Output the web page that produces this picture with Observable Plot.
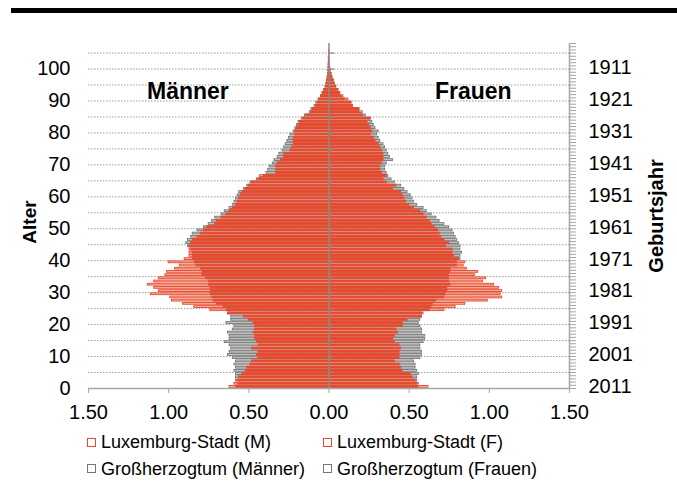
<!DOCTYPE html>
<html><head><meta charset="utf-8">
<script src="https://cdn.jsdelivr.net/npm/d3@7"></script>
<script src="https://cdn.jsdelivr.net/npm/@observablehq/plot@0.6"></script>
<style>
body{margin:0;background:#fff;font-family:"Liberation Sans",Arial,sans-serif;}
#wrap{position:relative;width:677px;height:491px;overflow:hidden;background:#fff}
#topbar{position:absolute;left:11px;top:8px;width:666px;height:5px;background:#000}
#chart{position:absolute;left:0;top:0}
.leg{position:absolute;display:flex;align-items:center;font-size:18px;line-height:18px;height:18px;color:#000;white-space:nowrap}
.sw{box-sizing:border-box;width:9px;height:9px;border:1.5px solid;background:#fff;margin-right:5px}
</style></head>
<body>
<div id="wrap">
  <div id="chart"></div>
  <div id="topbar"></div>
  <div id="legend"></div>
</div>
<script>
// Reference year of the census
const refYear = 2011;
// Ages 0..105
const ages = d3.range(0, 106);
// Share of population per age (%)
const luxM = [0.62,0.59,0.57,0.56,0.54,0.52,0.51,0.49,0.48,0.44,0.45,0.44,0.48,0.44,0.45,0.46,0.46,0.47,0.46,0.46,
0.47,0.50,0.53,0.63,0.74,0.84,0.91,0.98,0.99,1.11,1.06,1.09,1.13,1.09,1.06,1.02,1.01,0.96,0.93,1.00,
0.90,0.87,0.87,0.87,0.87,0.86,0.85,0.82,0.80,0.78,0.76,0.71,0.70,0.67,0.64,0.62,0.60,0.58,0.57,0.56,
0.55,0.54,0.52,0.50,0.48,0.44,0.43,0.33,0.33,0.33,0.32,0.30,0.28,0.28,0.24,0.23,0.22,0.22,0.22,0.21,
0.21,0.20,0.19,0.18,0.16,0.14,0.11,0.10,0.08,0.07,0.06,0.05,0.04,0.03,0.02,0.015,0.012,0.008,0.006,0.004,
0.003,0.002,0.001,0.001,0,0];
const grM = [0.58,0.57,0.58,0.58,0.58,0.59,0.58,0.59,0.58,0.60,0.63,0.62,0.61,0.62,0.65,0.62,0.62,0.63,0.60,0.59,
0.64,0.61,0.61,0.63,0.64,0.66,0.70,0.72,0.73,0.74,0.74,0.74,0.75,0.75,0.77,0.79,0.79,0.80,0.83,0.84,
0.85,0.85,0.85,0.86,0.88,0.89,0.88,0.86,0.85,0.82,0.78,0.75,0.73,0.71,0.67,0.65,0.62,0.60,0.59,0.58,
0.57,0.56,0.53,0.51,0.49,0.45,0.41,0.39,0.38,0.37,0.35,0.34,0.32,0.31,0.29,0.28,0.27,0.26,0.25,0.24,
0.22,0.21,0.20,0.19,0.17,0.15,0.12,0.11,0.09,0.08,0.065,0.05,0.04,0.03,0.022,0.016,0.012,0.008,0.006,0.004,
0.003,0.002,0.001,0.001,0,0];
const luxF = [0.62,0.55,0.54,0.52,0.51,0.46,0.45,0.44,0.41,0.44,0.44,0.44,0.45,0.44,0.41,0.40,0.41,0.43,0.42,0.46,
0.46,0.49,0.58,0.58,0.72,0.79,0.85,0.99,1.08,1.07,1.08,1.06,1.03,0.96,0.98,0.91,0.93,0.86,0.84,0.85,
0.81,0.78,0.77,0.77,0.73,0.75,0.72,0.70,0.69,0.68,0.66,0.64,0.63,0.61,0.59,0.57,0.53,0.50,0.48,0.47,
0.46,0.45,0.40,0.42,0.36,0.34,0.36,0.33,0.32,0.32,0.33,0.34,0.34,0.34,0.33,0.32,0.31,0.29,0.28,0.26,
0.27,0.26,0.25,0.24,0.26,0.21,0.19,0.19,0.15,0.14,0.12,0.09,0.07,0.055,0.045,0.035,0.028,0.02,0.015,0.01,
0.007,0.005,0.003,0.002,0.001,0.001];
const grF = [0.56,0.56,0.55,0.55,0.56,0.55,0.54,0.54,0.53,0.57,0.58,0.58,0.57,0.57,0.59,0.60,0.60,0.58,0.58,0.57,
0.56,0.57,0.58,0.59,0.63,0.64,0.65,0.67,0.72,0.73,0.74,0.74,0.76,0.75,0.75,0.75,0.76,0.76,0.80,0.80,
0.82,0.82,0.83,0.82,0.82,0.81,0.80,0.79,0.78,0.77,0.75,0.72,0.69,0.67,0.64,0.61,0.59,0.55,0.53,0.52,
0.51,0.49,0.47,0.45,0.41,0.39,0.37,0.36,0.35,0.35,0.36,0.40,0.38,0.37,0.36,0.35,0.34,0.32,0.31,0.30,
0.31,0.29,0.28,0.27,0.26,0.23,0.21,0.19,0.15,0.14,0.10,0.08,0.07,0.06,0.045,0.035,0.03,0.022,0.016,0.011,
0.008,0.005,0.003,0.002,0.001,0.001];
// Axis ticks and labels
const xTicks = [-1.5,-1,-0.5,0,0.5,1,1.5];
const ageLabels = [0,10,20,30,40,50,60,70,80,90,100];
const gridAges = [5,10,15,20,25,30,35,40,45,50,55,60,65,70,75,80,85,90,95,100,105];
const yearLabels = [1911,1921,1931,1941,1951,1961,1971,1981,1991,2001,2011];
const seriesNames = ["Luxemburg-Stadt (M)","Luxemburg-Stadt (F)","Großherzogtum (Männer)","Großherzogtum (Frauen)"];
const sideLabels = ["Männer","Frauen"];

const RED = "#e8482b", PINK = "#f6b6a4", GRAY = "#767676", LGRAY = "#cbcbcb", AX = "#a6a6a6";

const rows = ages.map((a,i)=>({age:a, lm:-luxM[i], gm:-grM[i], lf:luxF[i], gf:grF[i]}));
const bar = {y1:"age", y2:d=>d.age+1, insetTop:0.7, insetBottom:0.7};

const plot = Plot.plot({
  width:677, height:425,
  marginLeft:88, marginRight:108, marginTop:43, marginBottom:37,
  style:{fontFamily:"'Liberation Sans', Arial, sans-serif", fontSize:"20px", background:"transparent", overflow:"visible"},
  x:{domain:[-1.5,1.5], label:null},
  y:{domain:[0,108], label:null},
  marks:[
    Plot.ruleY(gridAges, {stroke:"#9a9a9a", strokeDasharray:"1.5,1.5", strokeWidth:1}),
    // Großherzogtum
    Plot.rect(rows, {...bar, x1:()=>0, x2:"gm", fill:LGRAY, stroke:GRAY, strokeWidth:0.9}),
    Plot.rect(rows, {...bar, x1:()=>0, x2:"gf", fill:LGRAY, stroke:GRAY, strokeWidth:0.9}),
    // Luxemburg-Stadt
    Plot.rect(rows, {...bar, x1:()=>0, x2:"lm", fill:PINK, stroke:RED, strokeWidth:0.9}),
    Plot.rect(rows, {...bar, x1:()=>0, x2:"lf", fill:PINK, stroke:RED, strokeWidth:0.9}),
    Plot.rect(rows, {...bar, x1:()=>0, x2:d=>Math.max(d.lm,d.gm), fill:RED}),
    Plot.rect(rows, {...bar, x1:()=>0, x2:d=>Math.min(d.lf,d.gf), fill:RED}),
    // central axis
    Plot.ruleX([0], {stroke:"#8c8c8c", strokeWidth:1.5}),
    Plot.ruleY(gridAges, {x1:()=>0, x2:()=>0.035, stroke:"#8c8c8c", strokeWidth:1.2}),
    // frame axes
    Plot.ruleX([1.5], {stroke:AX, strokeWidth:1.5}),
    Plot.ruleY([0], {stroke:AX, strokeWidth:1.5}),
    Plot.axisY(d3.range(0,109), {anchor:"right", tickSize:6, tickFormat:()=>"", stroke:AX, label:null}),
    Plot.axisY(yearLabels.map(y=>refYear-y+0.5), {anchor:"right", tickSize:0, tickPadding:19, tickFormat:d=>String(Math.round(refYear-d+0.5)), label:null}),
    Plot.axisY(ageLabels, {anchor:"left", tickSize:0, tickPadding:18, label:null}),
    Plot.axisX(xTicks, {anchor:"bottom", tickSize:5, tickPadding:11, stroke:AX, tickFormat:d=>Math.abs(d).toFixed(2), label:null}),
    // titles
    Plot.text(["Alter"], {frameAnchor:"left", dx:-59, dy:6, rotate:-90, textAnchor:"middle", fontWeight:"bold", fontSize:19}),
    Plot.text(["Geburtsjahr"], {frameAnchor:"right", dx:87, dy:0, rotate:-90, textAnchor:"middle", fontWeight:"bold", fontSize:20}),
    Plot.text([{t:sideLabels[0], x:-0.88, y:93},{t:sideLabels[1], x:0.9, y:93}], {x:"x", y:"y", text:"t", fontWeight:"bold", fontSize:23})
  ]
});
document.getElementById("chart").appendChild(plot);

// legend
const legPos = [[87,433],[323,433],[87,459.5],[323,459.5]];
const legColors = [RED, RED, GRAY, GRAY];
const leg = document.getElementById("legend");
seriesNames.forEach((n,i)=>{
  const d = document.createElement("div");
  d.className = "leg";
  d.style.left = legPos[i][0]+"px";
  d.style.top = legPos[i][1]+"px";
  const s = document.createElement("span");
  s.className = "sw";
  s.style.borderColor = legColors[i];
  d.appendChild(s);
  d.appendChild(document.createTextNode(n));
  leg.appendChild(d);
});
</script>
</body></html>
